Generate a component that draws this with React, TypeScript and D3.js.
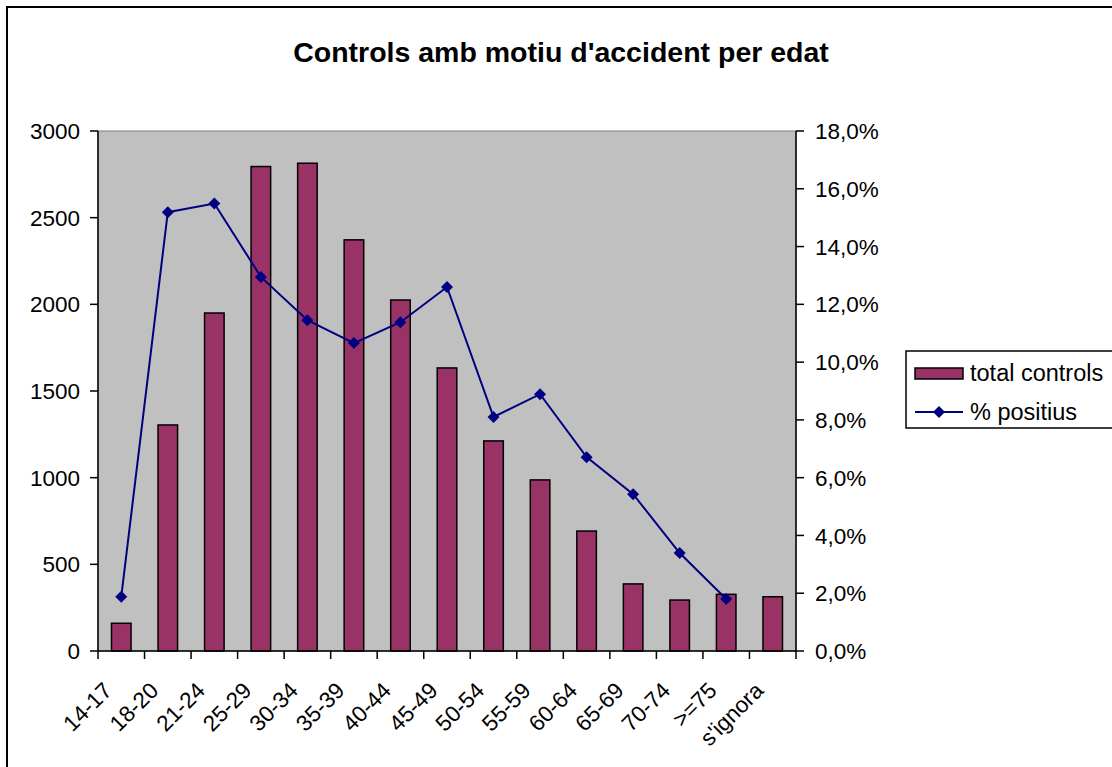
import React from "react";
import * as d3 from "d3";

const categories = ["14-17", "18-20", "21-24", "25-29", "30-34", "35-39", "40-44", "45-49", "50-54", "55-59", "60-64", "65-69", "70-74", ">=75", "s'ignora"];
const totalControls = [160, 1304, 1950, 2795, 2814, 2372, 2025, 1633, 1212, 987, 692, 387, 294, 327, 313];
const pctPositius: (number | null)[] = [1.88, 15.19, 15.49, 12.95, 11.45, 10.66, 11.38, 12.6, 8.1, 8.89, 6.71, 5.43, 3.39, 1.8, null];
const leftTicks = [0, 500, 1000, 1500, 2000, 2500, 3000];
const rightTicks = [0, 2, 4, 6, 8, 10, 12, 14, 16, 18];

const W = 1112, H = 767;
const PL = 98, PR = 796, PT = 131, PB = 651;
const FONT = "'Liberation Sans', Arial, sans-serif";
const AX = 22.5;

export default function App() {
  const x = d3.scaleBand<string>().domain(categories).range([PL, PR]).paddingInner(0).paddingOuter(0);
  const bw = x.bandwidth();
  const barW = bw * 0.42;
  const yL = d3.scaleLinear().domain([0, 3000]).range([PB, PT]);
  const yR = d3.scaleLinear().domain([0, 18]).range([PB, PT]);
  const pts = categories
    .map((c, i) => ({ c, v: pctPositius[i] }))
    .filter((d) => d.v !== null) as { c: string; v: number }[];
  const line = d3
    .line<{ c: string; v: number }>()
    .x((d) => (x(d.c) as number) + bw / 2)
    .y((d) => yR(d.v));
  const diamond = (cx: number, cy: number, r: number) =>
    `M${cx},${cy - r}L${cx + r},${cy}L${cx},${cy + r}L${cx - r},${cy}Z`;
  const fmtR = (v: number) => v.toFixed(1).replace(".", ",") + "%";
  const boundaries = categories.map((c) => x(c) as number).concat([PR]);

  return (
    <svg width={W} height={H} style={{ position: "absolute", left: 0, top: 0 }} fontFamily={FONT}>
      <rect x={0} y={0} width={W} height={H} fill="#fff" />
      <rect x={7} y={7} width={W + 20} height={H + 20} fill="none" stroke="#000" strokeWidth={2} />
      <text x={561} y={62} textAnchor="middle" fontSize={28.5} fontWeight="bold">
        Controls amb motiu d'accident per edat
      </text>
      <rect x={PL} y={PT} width={PR - PL} height={PB - PT} fill="#C0C0C0" stroke="#808080" strokeWidth={1} />
      {categories.map((c, i) => (
        <rect
          key={c}
          x={(x(c) as number) + (bw - barW) / 2}
          y={yL(totalControls[i])}
          width={barW}
          height={PB - yL(totalControls[i])}
          fill="#993366"
          stroke="#000"
          strokeWidth={1.5}
        />
      ))}
      <path d={line(pts) || ""} fill="none" stroke="#000080" strokeWidth={2} />
      {pts.map((d) => (
        <path key={d.c} d={diamond((x(d.c) as number) + bw / 2, yR(d.v), 6)} fill="#000080" />
      ))}
      {/* left axis */}
      <line x1={PL} x2={PL} y1={PT} y2={PB} stroke="#000" strokeWidth={1.5} />
      {leftTicks.map((t) => (
        <g key={t}>
          <line x1={PL - 8} x2={PL} y1={yL(t)} y2={yL(t)} stroke="#000" strokeWidth={1.5} />
          <text x={80} y={yL(t)} dy="0.36em" textAnchor="end" fontSize={AX}>
            {t}
          </text>
        </g>
      ))}
      {/* right axis */}
      <line x1={PR} x2={PR} y1={PT} y2={PB} stroke="#000" strokeWidth={1.5} />
      {rightTicks.map((t) => (
        <g key={t}>
          <line x1={PR} x2={PR + 8} y1={yR(t)} y2={yR(t)} stroke="#000" strokeWidth={1.5} />
          <text x={815} y={yR(t)} dy="0.36em" textAnchor="start" fontSize={AX}>
            {fmtR(t)}
          </text>
        </g>
      ))}
      {/* bottom axis */}
      <line x1={PL} x2={PR} y1={PB} y2={PB} stroke="#000" strokeWidth={1.5} />
      {boundaries.map((b, i) => (
        <line key={i} x1={b} x2={b} y1={PB} y2={PB + 8} stroke="#000" strokeWidth={1.5} />
      ))}
      {categories.map((c) => {
        const cx = (x(c) as number) + bw / 2;
        return (
          <text key={c} transform={`translate(${cx - 8},${PB + 41}) rotate(-45)`} textAnchor="end" fontSize={AX}>
            {c}
          </text>
        );
      })}
      {/* legend */}
      <rect x={906} y={351} width={220} height={77} fill="#fff" stroke="#000" strokeWidth={1.5} />
      <rect x={915} y={368} width={48} height={11} fill="#993366" stroke="#000" strokeWidth={1.5} />
      <text x={970} y={381} fontSize={23.5}>total controls</text>
      <line x1={915} x2={963} y1={412} y2={412} stroke="#000080" strokeWidth={2} />
      <path d={diamond(939, 412, 6)} fill="#000080" />
      <text x={970} y={420} fontSize={23.5}>% positius</text>
    </svg>
  );
}
